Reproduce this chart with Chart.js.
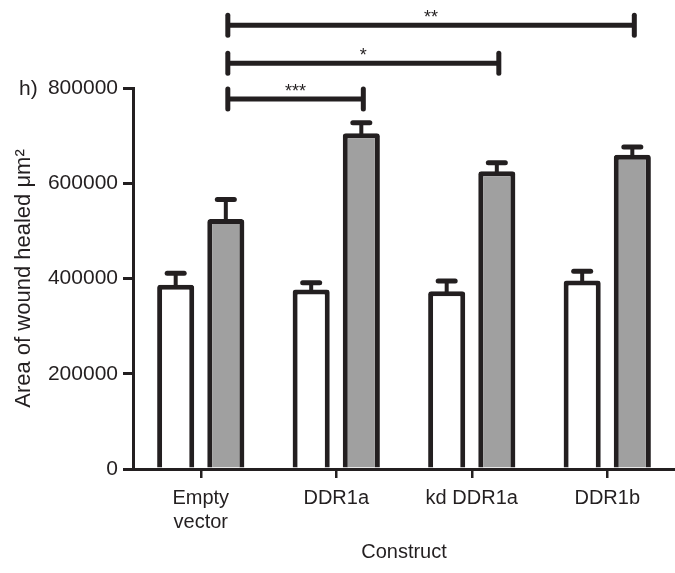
<!DOCTYPE html>
<html><head><meta charset="utf-8">
<script src="https://cdn.jsdelivr.net/npm/chart.js@4"></script>
<style>html,body{margin:0;padding:0;background:#fff;overflow:hidden}#wrap{width:675px;height:573px;position:relative}</style>
</head><body><div id="wrap"><canvas id="c" width="675" height="573"></canvas></div>
<script>
const categories = [['Empty', 'vector'], 'DDR1a', 'kd DDR1a', 'DDR1b'];
const seriesNames = ['Control', 'Construct'];
const whiteValues = [387000, 377000, 373000, 396000];
const whiteErrors = [24000, 14000, 22000, 19000];
const greyValues = [525000, 705000, 625000, 660000];
const greyErrors = [41000, 22000, 18000, 16000];
const yTicks = [0, 200000, 400000, 600000, 800000];
const bracketPairs = [[0, 1], [0, 2], [0, 3]];
const bracketLevels = [777000, 852000, 932000];
const bracketLabels = ['***', '*', '**'];
const panelLabel = 'h)';

const ink = '#231f20';
const FONT = "'Liberation Sans', Arial, Helvetica, sans-serif";
Chart.defaults.font.family = FONT;

const errorsBySeries = [whiteErrors, greyErrors];

const overlay = {
  id: 'overlay',
  afterDraw(chart) {
    const ctx = chart.ctx;
    const ys = chart.scales.y;
    ctx.save();
    ctx.strokeStyle = ink;
    ctx.fillStyle = ink;
    // error bars
    chart.data.datasets.forEach((ds, di) => {
      const meta = chart.getDatasetMeta(di);
      meta.data.forEach((el, i) => {
        const v = ds.data[i];
        const e = errorsBySeries[di][i];
        const yTop = ys.getPixelForValue(v);
        const yE = ys.getPixelForValue(v + e);
        ctx.lineCap = 'butt';
        ctx.lineWidth = 4;
        ctx.beginPath();
        ctx.moveTo(el.x, yTop + 2);
        ctx.lineTo(el.x, yE);
        ctx.stroke();
        ctx.lineCap = 'round';
        ctx.lineWidth = 5;
        ctx.beginPath();
        ctx.moveTo(el.x - 8.5, yE);
        ctx.lineTo(el.x + 8.5, yE);
        ctx.stroke();
      });
    });
    // significance brackets
    const gm = chart.getDatasetMeta(1);
    bracketPairs.forEach((p, k) => {
      const x1 = gm.data[p[0]].x + 2;
      const x2 = gm.data[p[1]].x + 2;
      const y = ys.getPixelForValue(bracketLevels[k]);
      ctx.lineCap = 'butt';
      ctx.lineWidth = 5;
      ctx.beginPath();
      ctx.moveTo(x1, y);
      ctx.lineTo(x2, y);
      ctx.stroke();
      ctx.lineCap = 'round';
      [x1, x2].forEach(x => {
        ctx.beginPath();
        ctx.moveTo(x, y - 10);
        ctx.lineTo(x, y + 10);
        ctx.stroke();
      });
      ctx.font = '18px ' + FONT;
      ctx.textAlign = 'center';
      ctx.textBaseline = 'alphabetic';
      ctx.fillText(bracketLabels[k], (x1 + x2) / 2, y - 2);
    });
    // panel label
    ctx.font = '21px ' + FONT;
    ctx.textAlign = 'left';
    ctx.textBaseline = 'middle';
    ctx.fillText(panelLabel, 19, ys.getPixelForValue(yTicks[yTicks.length - 1]) + 1);
    ctx.restore();
  }
};

new Chart(document.getElementById('c'), {
  type: 'bar',
  data: {
    labels: categories,
    datasets: [
      { label: seriesNames[0], data: whiteValues, backgroundColor: '#ffffff', borderColor: ink, borderWidth: 5, borderRadius: 3,
        barPercentage: 0.74, categoryPercentage: 0.74 },
      { label: seriesNames[1], data: greyValues, backgroundColor: '#a0a0a0', borderColor: ink, borderWidth: 5, borderRadius: 3,
        barPercentage: 0.74, categoryPercentage: 0.74 }
    ]
  },
  options: {
    responsive: false,
    animation: false,
    layout: { padding: { top: 88, right: 0, bottom: 0, left: 0 } },
    plugins: { legend: { display: false }, tooltip: { enabled: false } },
    scales: {
      x: {
        offset: true,
        afterFit: s => { s.height = 104; },
        border: { display: true, color: ink, width: 3 },
        grid: { display: true, drawOnChartArea: false, drawTicks: true, tickLength: 9, color: ink, lineWidth: 2.5, offset: false },
        ticks: { color: ink, font: { size: 20 }, padding: 8, maxRotation: 0, autoSkip: false },
        title: { display: true, text: 'Construct', color: ink, font: { size: 20 }, padding: { top: 6, bottom: 9 } }
      },
      y: {
        min: 0, max: 800000,
        afterBuildTicks: s => { s.ticks = yTicks.map(v => ({ value: v })); },
        afterFit: s => { s.width = 133; },
        border: { display: true, color: ink, width: 3 },
        grid: { display: true, drawOnChartArea: false, drawTicks: true, tickLength: 10, color: ink, lineWidth: 3 },
        ticks: { color: ink, font: { size: 21 }, padding: 5, callback: v => String(v) },
        title: { display: true, text: 'Area of wound healed μm²', color: ink, font: { size: 22 }, padding: { top: 11, bottom: 0 } }
      }
    }
  },
  plugins: [overlay]
});
</script>
</body></html>
